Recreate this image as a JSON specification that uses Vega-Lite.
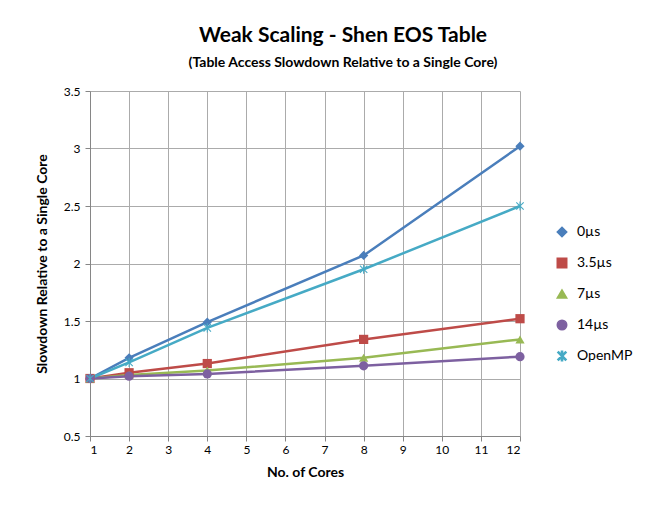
{
  "$schema": "https://vega.github.io/schema/vega-lite/v6.json",
  "width": 430,
  "height": 345,
  "autosize": {"type": "none"},
  "padding": {"left": 90, "top": 91, "right": 144, "bottom": 77},
  "background": "white",
  "title": {
    "text": "Weak Scaling - Shen EOS Table",
    "subtitle": "(Table Access Slowdown Relative to a Single Core)",
    "font": "Lato",
    "fontSize": 21,
    "fontWeight": "bold",
    "subtitleFont": "Lato",
    "subtitleFontSize": 14,
    "subtitleFontWeight": "bold",
    "subtitleColor": "black",
    "subtitlePadding": 10,
    "color": "black",
    "anchor": "middle",
    "dx": 38,
    "offset": 15
  },
  "data": {
    "values": [
      {"series": "0µs", "cores": 1, "slowdown": 1.0},
      {"series": "0µs", "cores": 2, "slowdown": 1.18},
      {"series": "0µs", "cores": 4, "slowdown": 1.49},
      {"series": "0µs", "cores": 8, "slowdown": 2.07},
      {"series": "0µs", "cores": 12, "slowdown": 3.02},
      {"series": "3.5µs", "cores": 1, "slowdown": 1.0},
      {"series": "3.5µs", "cores": 2, "slowdown": 1.05},
      {"series": "3.5µs", "cores": 4, "slowdown": 1.13},
      {"series": "3.5µs", "cores": 8, "slowdown": 1.34},
      {"series": "3.5µs", "cores": 12, "slowdown": 1.52},
      {"series": "7µs", "cores": 1, "slowdown": 1.0},
      {"series": "7µs", "cores": 2, "slowdown": 1.03},
      {"series": "7µs", "cores": 4, "slowdown": 1.07},
      {"series": "7µs", "cores": 8, "slowdown": 1.18},
      {"series": "7µs", "cores": 12, "slowdown": 1.34},
      {"series": "14µs", "cores": 1, "slowdown": 1.0},
      {"series": "14µs", "cores": 2, "slowdown": 1.02},
      {"series": "14µs", "cores": 4, "slowdown": 1.04},
      {"series": "14µs", "cores": 8, "slowdown": 1.11},
      {"series": "14µs", "cores": 12, "slowdown": 1.19},
      {"series": "OpenMP", "cores": 1, "slowdown": 1.0},
      {"series": "OpenMP", "cores": 2, "slowdown": 1.14},
      {"series": "OpenMP", "cores": 4, "slowdown": 1.44},
      {"series": "OpenMP", "cores": 8, "slowdown": 1.95},
      {"series": "OpenMP", "cores": 12, "slowdown": 2.5}
    ]
  },
  "encoding": {
    "x": {
      "field": "cores",
      "type": "quantitative",
      "scale": {"domain": [1, 12], "nice": false, "zero": false},
      "axis": {
        "title": "No. of Cores",
        "values": [1, 2, 3, 4, 5, 6, 7, 8, 9, 10, 11, 12],
        "grid": true,
        "gridColor": "#ABABAB",
        "gridWidth": 1,
        "domainColor": "#868686",
        "tickColor": "#868686",
        "tickSize": 5,
        "labelFont": "Lato",
        "labelFontSize": 12,
        "labelColor": "black",
        "labelPadding": 3,
        "titleFont": "Lato",
        "titleFontSize": 14,
        "titleFontWeight": "bold",
        "titleColor": "black",
        "titlePadding": 10
      }
    },
    "y": {
      "field": "slowdown",
      "type": "quantitative",
      "scale": {"domain": [0.5, 3.5], "nice": false, "zero": false},
      "axis": {
        "title": "Slowdown Relative to a Single Core",
        "values": [0.5, 1, 1.5, 2, 2.5, 3, 3.5],
        "labelExpr": "'' + datum.value",
        "grid": true,
        "gridColor": "#ABABAB",
        "gridWidth": 1,
        "domainColor": "#868686",
        "tickColor": "#868686",
        "tickSize": 5,
        "labelFont": "Lato",
        "labelFontSize": 12,
        "labelColor": "black",
        "labelPadding": 5,
        "titleFont": "Lato",
        "titleFontSize": 14,
        "titleFontWeight": "bold",
        "titleColor": "black",
        "titlePadding": 14
      }
    },
    "color": {
      "field": "series",
      "type": "nominal",
      "scale": {
        "domain": ["0µs", "3.5µs", "7µs", "14µs", "OpenMP"],
        "range": ["#4A7EBB", "#BE4B48", "#98B954", "#7D60A0", "#46AAC5"]
      },
      "legend": {
        "title": null,
        "orient": "none",
        "legendX": 465,
        "legendY": 134,
        "labelFont": "Lato",
        "labelFontSize": 14,
        "labelColor": "black",
        "rowPadding": 15,
        "symbolSize": 90,
        "labelOffset": 8
      }
    }
  },
  "layer": [
    {
      "mark": {"type": "line", "strokeWidth": 2.5}
    },
    {
      "mark": {"type": "point", "filled": true, "size": 85, "opacity": 1},
      "encoding": {
        "shape": {
          "field": "series",
          "type": "nominal",
          "scale": {
            "domain": ["0µs", "3.5µs", "7µs", "14µs", "OpenMP"],
            "range": ["diamond", "square", "triangle-up", "circle", "M-0.12,-1L0.12,-1L0.12,1L-0.12,1ZM-0.715,-0.885L0.885,0.715L0.715,0.885L-0.885,-0.715ZM0.715,-0.885L0.885,-0.715L-0.715,0.885L-0.885,0.715Z"]
          },
          "legend": {
            "title": null,
            "orient": "none",
            "legendX": 465,
            "legendY": 134,
            "labelFont": "Lato",
            "labelFontSize": 14,
            "labelColor": "black",
            "rowPadding": 15,
            "symbolSize": 90,
            "labelOffset": 8
          }
        }
      }
    }
  ],
  "config": {
    "view": {"stroke": null}
  }
}
